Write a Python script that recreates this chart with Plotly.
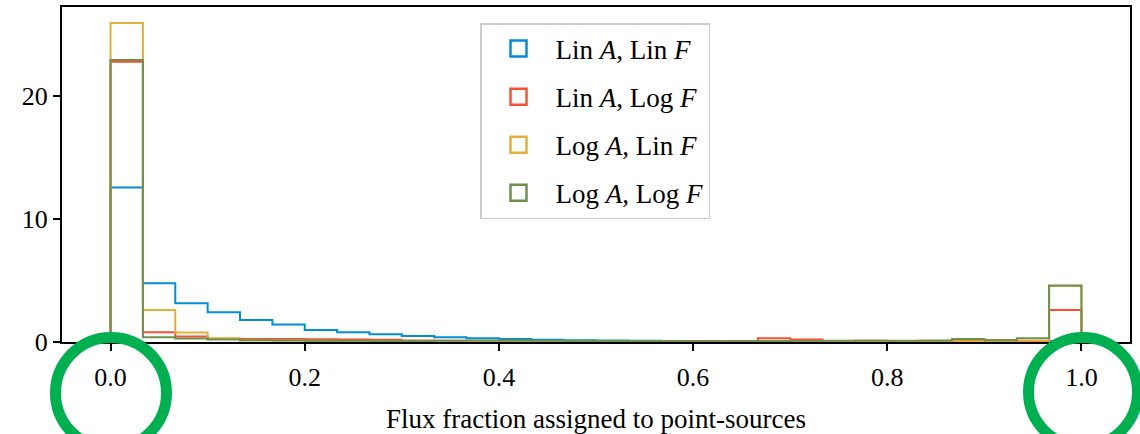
import numpy as np
import plotly.graph_objects as go

# ---- data (30 equal bins on [0, 1]) ----
n_bins = 30
bin_lo, bin_hi = 0.0, 1.0

series_names = ["Lin <i>A</i>, Lin <i>F</i>", "Lin <i>A</i>, Log <i>F</i>",
                "Log <i>A</i>, Lin <i>F</i>", "Log <i>A</i>, Log <i>F</i>"]

lin_a_lin_f = [12.55, 4.77, 3.15, 2.41, 1.79, 1.42, 0.98, 0.79, 0.62, 0.49,
               0.38, 0.30, 0.24, 0.19, 0.15, 0.13, 0.11, 0.09, 0.08, 0.07,
               0.06, 0.05, 0.05, 0.05, 0.04, 0.04, 0.04, 0.05, 0.05, 0.08]
lin_a_log_f = [22.75, 0.80, 0.45, 0.27, 0.25, 0.25, 0.22, 0.20, 0.18, 0.12,
               0.10, 0.08, 0.08, 0.06, 0.06, 0.05, 0.05, 0.05, 0.06, 0.06,
               0.30, 0.20, 0.06, 0.08, 0.07, 0.06, 0.08, 0.15, 0.08, 2.60]
log_a_lin_f = [25.90, 2.60, 0.78, 0.30, 0.15, 0.12, 0.10, 0.08, 0.07, 0.06,
               0.05, 0.05, 0.04, 0.04, 0.04, 0.04, 0.03, 0.03, 0.03, 0.03,
               0.03, 0.03, 0.04, 0.04, 0.04, 0.05, 0.06, 0.06, 0.10, 4.55]
log_a_log_f = [22.90, 0.38, 0.28, 0.20, 0.15, 0.12, 0.10, 0.10, 0.08, 0.08,
               0.10, 0.12, 0.12, 0.10, 0.08, 0.08, 0.07, 0.07, 0.06, 0.06,
               0.08, 0.07, 0.10, 0.12, 0.10, 0.12, 0.25, 0.15, 0.30, 4.58]

series_values = [lin_a_lin_f, lin_a_log_f, log_a_lin_f, log_a_log_f]
colors = ["#008fd5", "#fc4f30", "#e5ae38", "#6d904f"]

x_ticks = [0.0, 0.2, 0.4, 0.6, 0.8, 1.0]
x_tick_text = ["0.0", "0.2", "0.4", "0.6", "0.8", "1.0"]
y_ticks = [0, 10, 20]
x_title = "Flux fraction assigned to point-sources"

FONT = "Liberation Serif"

edges = np.linspace(bin_lo, bin_hi, n_bins + 1)

fig = go.Figure()
for i, (name, vals, col) in enumerate(zip(series_names, series_values, colors)):
    # step outline of the histogram ("step" histtype)
    xs = [edges[0]] + list(edges[:-1]) + [edges[-1]]
    ys = [0.0] + list(vals) + [0.0]
    fig.add_trace(go.Scatter(
        x=xs, y=ys, mode="lines", line=dict(color=col, width=2, shape="hv"),
        showlegend=False, legendgroup=f"g{i}", hoverinfo="skip"))
    # legend entry (outlined box)
    fig.add_trace(go.Scatter(
        x=[None], y=[None], mode="markers", name=name, legendgroup=f"g{i}",
        marker=dict(symbol="square-open", size=16, color=col,
                    line=dict(color=col, width=2.5))))

# pixel -> paper helpers for the highlight circles
L, R, T, B = 62, 1130, 7, 342
def px(x):
    return (x - L) / (R - L)
def py(y):
    return (B - y) / (B - T)

ring = dict(color="#00b050", width=11)
fig.add_shape(type="circle", xref="paper", yref="paper",
              x0=px(55.5), x1=px(166.5), y0=py(337.5), y1=py(448.5), line=ring)
fig.add_shape(type="circle", xref="paper", yref="paper",
              x0=px(1028.5), x1=px(1137.5), y0=py(337.5), y1=py(446.5), line=ring)

fig.update_layout(
    width=1140, height=434,
    margin=dict(l=L, r=1140 - R, t=T, b=434 - B),
    paper_bgcolor="white", plot_bgcolor="white",
    font=dict(family=FONT, size=26, color="black"),
    legend=dict(x=px(480), y=py(23), xanchor="left", yanchor="top",
                bgcolor="white", bordercolor="#cccccc", borderwidth=1.5,
                font=dict(family=FONT, size=27), tracegroupgap=10,
                traceorder="grouped", itemwidth=64),
)
fig.update_xaxes(
    range=[-0.05, 1.05], tickvals=x_ticks, ticktext=x_tick_text,
    ticks="outside", ticklen=7, tickwidth=1.5, tickcolor="black",
    ticklabelstandoff=4, automargin=False,
    showline=True, linecolor="black", linewidth=2, mirror=True,
    showgrid=False, zeroline=False,
    tickfont=dict(family=FONT, size=26),
    title=dict(text=x_title, font=dict(family=FONT, size=27), standoff=18),
)
fig.update_yaxes(
    range=[0, 27.2], tickvals=y_ticks, automargin=False,
    ticks="outside", ticklen=7, tickwidth=1.5, tickcolor="black",
    showline=True, linecolor="black", linewidth=2, mirror=True,
    showgrid=False, zeroline=False,
    tickfont=dict(family=FONT, size=26),
)

fig.write_html("out.html")
